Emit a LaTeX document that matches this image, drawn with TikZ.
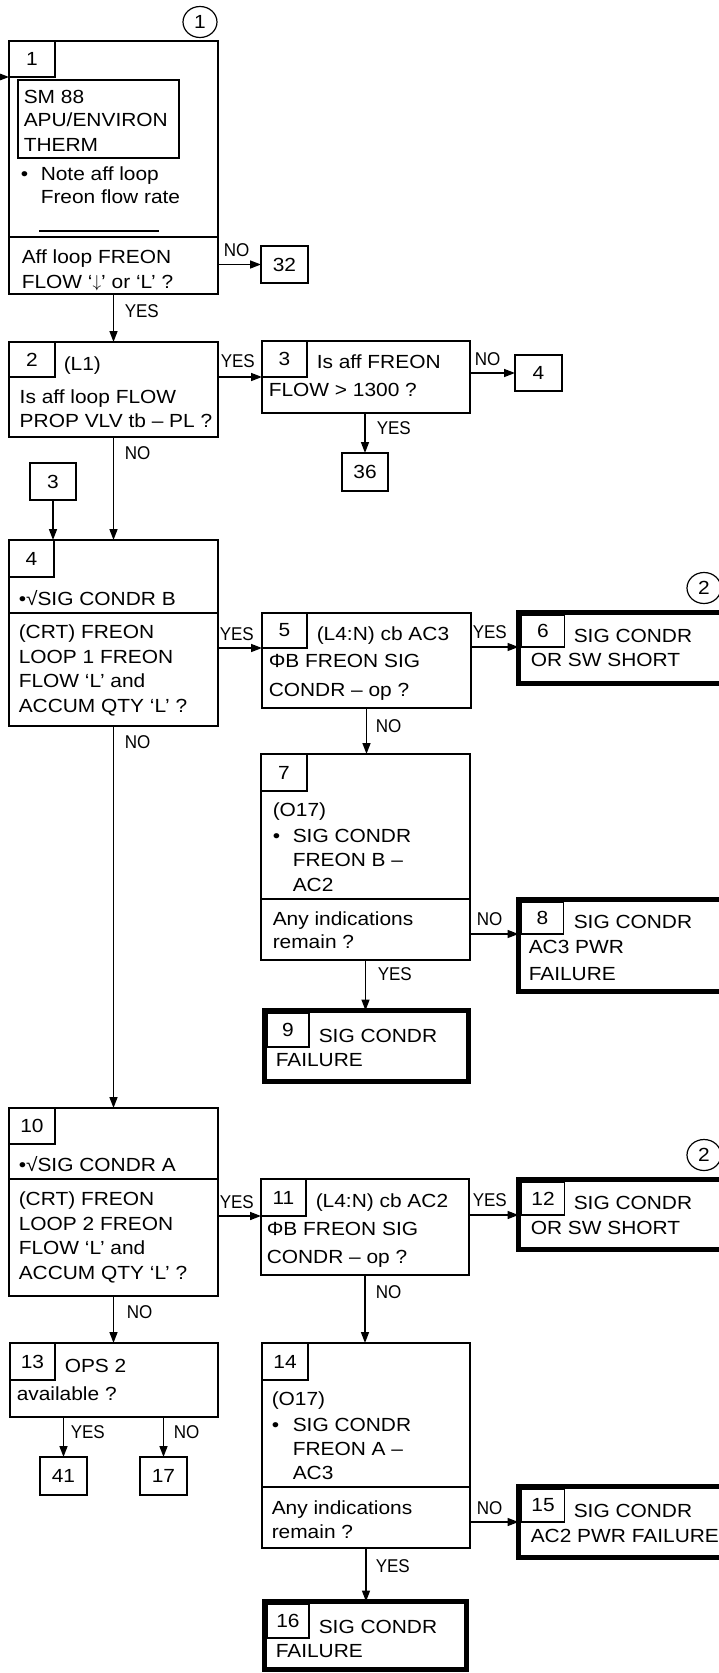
\documentclass[tikz,border=0pt]{standalone}
\usepackage{fontspec}
\setmainfont{Liberation Sans}[FakeStretch=1.1]
\newfontfamily\lblfont{Liberation Sans}[FakeStretch=0.92]
\usetikzlibrary{arrows.meta}
\usetikzlibrary{shapes.geometric}

\begin{document}
\begin{tikzpicture}[
    x=1pt, y=-1pt,
    ->, % connectors are directed
    >={Triangle[length=11pt,width=8pt]}, % arrow head style
    line width=1.5pt,
    % boxes are placed by their top left corner
    box/.style={
        draw,
        -,
        line width=1.5pt,
        anchor=north west,
        inner sep=0pt,
        outer sep=0pt,
        font=\fontsize{19}{25}\selectfont
    },
    endBox/.style={box, line width=5pt},
    sz/.style 2 args={minimum width=#1pt, minimum height=#2pt},
    txt/.style={anchor=base west, inner sep=0pt, font=\fontsize{19}{25}\selectfont},
    lbl/.style={anchor=base west, inner sep=0pt, font=\lblfont\fontsize{18.5}{20}\selectfont},
    refCircle/.style={
        draw, -, ellipse,
        line width=1.2pt,
        inner sep=0pt,
        minimum width=34pt,
        minimum height=31pt,
        font=\fontsize{19}{25}\selectfont
    }
]
\useasboundingbox (0,0) rectangle (718,1673);

    % Block 1
    \node[refCircle] (c1) at (200,22) {1};
    \node[box, sz={209}{253}] (b1) at (9,41) {};
    \node[box, sz={46}{36}] (n1) at (9,41) {1};
    \node[box, sz={161}{78}] (sm) at (18,80) {};
    \node[txt] (t1-1) at (23,103) {SM 88};
    \node[txt] (t1-2) at (23,126) {APU/ENVIRON};
    \node[txt] (t1-3) at (23,151) {THERM};
    \node[txt] (t1-4) at (20,180) {•};
    \node[txt] (t1-5) at (40,180) {Note aff loop};
    \node[txt] (t1-6) at (40,203) {Freon flow rate};
    \draw[-] (39,231) -- (159,231);
    \draw[-] (9,237) -- (218,237);
    \node[txt] (t1-7) at (21,263) {Aff loop FREON};
    \node[txt] (t1-8) at (21,288) {FLOW ‘\raisebox{1pt}{$\downarrow$}’ or ‘L’ ?};
    \node[box, sz={47}{37}] (r32) at (261,246) {32};

    % Block 2 and 3
    \node[box, sz={209}{95}] (b2) at (9,342) {};
    \node[box, sz={46}{35}] (n2) at (9,342) {2};
    \node[txt] (t2-1) at (63,370) {(L1)};
    \node[txt] (t2-2) at (19,403) {Is aff loop FLOW};
    \node[txt] (t2-3) at (19,427) {PROP VLV tb – PL ?};

    \node[box, sz={208}{72}] (b3) at (262,341) {};
    \node[box, sz={45}{36}] (n3) at (262,341) {3};
    \node[txt] (t3-1) at (316,368) {Is aff FREON};
    \node[txt] (t3-2) at (268,396) {FLOW > 1300 ?};
    \node[box, sz={47}{36}] (r4) at (515,355) {4};
    \node[box, sz={46}{38}] (r36) at (342,453) {36};
    \node[box, sz={46}{37}] (r3) at (30,463) {3};

    % Block 4, 5, 6
    \node[box, sz={209}{186}] (b4) at (9,540) {};
    \node[box, sz={45}{37}] (n4) at (9,540) {4};
    \node[txt] (t4-1) at (18,605) {•√SIG CONDR B};
    \draw[-] (9,613) -- (218,613);
    \node[txt] (t4-2) at (18,638) {(CRT) FREON};
    \node[txt] (t4-3) at (18,663) {LOOP 1 FREON};
    \node[txt] (t4-4) at (18,687) {FLOW ‘L’ and};
    \node[txt] (t4-5) at (18,712) {ACCUM QTY ‘L’ ?};

    \node[box, sz={209}{95}] (b5) at (262,613) {};
    \node[box, sz={45}{35}] (n5) at (262,613) {5};
    \node[txt] (t5-1) at (316,640) {(L4:N) cb AC3};
    \node[txt] (t5-2) at (268,667) {ΦB FREON SIG};
    \node[txt] (t5-3) at (268,696) {CONDR – op ?};

    \node[refCircle] (c2a) at (704,588) {2};
    \node[endBox, sz={210}{71}] (b6) at (518.5,612.5) {};
    \node[box, sz={43}{32}] (n6) at (521.5,615) {6};
    \node[txt] (t6-1) at (573,642) {SIG CONDR};
    \node[txt] (t6-2) at (530,666) {OR SW SHORT};

    % Block 7, 8, 9
    \node[box, sz={209}{206}] (b7) at (261,754) {};
    \node[box, sz={46}{37}] (n7) at (261,754) {7};
    \node[txt] (t7-1) at (272,816) {(O17)};
    \node[txt] (t7-2) at (272,842) {•};
    \node[txt] (t7-3) at (292,842) {SIG CONDR};
    \node[txt] (t7-4) at (292,866) {FREON B –};
    \node[txt] (t7-5) at (292,891) {AC2};
    \draw[-] (261,899) -- (470,899);
    \node[txt] (t7-6) at (272,925) {Any indications};
    \node[txt] (t7-7) at (272,948) {remain ?};

    \node[endBox, sz={210}{92}] (b8) at (518.5,899.5) {};
    \node[box, sz={42}{32}] (n8) at (521.5,902) {8};
    \node[txt] (t8-1) at (573,928) {SIG CONDR};
    \node[txt] (t8-2) at (528,953) {AC3 PWR};
    \node[txt] (t8-3) at (528,980) {FAILURE};

    \node[endBox, sz={204}{71}] (b9) at (264.5,1010.5) {};
    \node[box, sz={42}{34}] (n9) at (267,1013) {9};
    \node[txt] (t9-1) at (318,1042) {SIG CONDR};
    \node[txt] (t9-2) at (275,1066) {FAILURE};

    % Block 10, 11, 12
    \node[box, sz={209}{188}] (b10) at (9,1108) {};
    \node[box, sz={46}{36}] (n10) at (9,1108) {10};
    \node[txt] (t10-1) at (18,1171) {•√SIG CONDR A};
    \draw[-] (9,1179) -- (218,1179);
    \node[txt] (t10-2) at (18,1205) {(CRT) FREON};
    \node[txt] (t10-3) at (18,1230) {LOOP 2 FREON};
    \node[txt] (t10-4) at (18,1254) {FLOW ‘L’ and};
    \node[txt] (t10-5) at (18,1279) {ACCUM QTY ‘L’ ?};

    \node[box, sz={208}{96}] (b11) at (261,1179) {};
    \node[box, sz={45}{37}] (n11) at (261,1179) {11};
    \node[txt] (t11-1) at (315,1207) {(L4:N) cb AC2};
    \node[txt] (t11-2) at (266,1235) {ΦB FREON SIG};
    \node[txt] (t11-3) at (266,1263) {CONDR – op ?};

    \node[refCircle] (c2b) at (704,1155) {2};
    \node[endBox, sz={210}{70}] (b12) at (518.5,1179.5) {};
    \node[box, sz={43}{33}] (n12) at (521.5,1182) {12};
    \node[txt] (t12-1) at (573,1209) {SIG CONDR};
    \node[txt] (t12-2) at (530,1234) {OR SW SHORT};

    % Block 13
    \node[box, sz={208}{74}] (b13) at (10,1343) {};
    \node[box, sz={45}{37}] (n13) at (10,1343) {13};
    \node[txt] (t13-1) at (64,1372) {OPS 2};
    \node[txt] (t13-2) at (16,1400) {available ?};
    \node[box, sz={47}{38}] (r41) at (40,1457) {41};
    \node[box, sz={47}{38}] (r17) at (140,1457) {17};

    % Block 14, 15, 16
    \node[box, sz={208}{205}] (b14) at (262,1343) {};
    \node[box, sz={46}{37}] (n14) at (262,1343) {14};
    \node[txt] (t14-1) at (271,1405) {(O17)};
    \node[txt] (t14-2) at (271,1431) {•};
    \node[txt] (t14-3) at (292,1431) {SIG CONDR};
    \node[txt] (t14-4) at (292,1455) {FREON A –};
    \node[txt] (t14-5) at (292,1479) {AC3};
    \draw[-] (262,1487) -- (470,1487);
    \node[txt] (t14-6) at (271,1514) {Any indications};
    \node[txt] (t14-7) at (271,1538) {remain ?};

    \node[endBox, sz={210}{71}] (b15) at (518.5,1486.5) {};
    \node[box, sz={43}{33}] (n15) at (521.5,1489) {15};
    \node[txt] (t15-1) at (573,1517) {SIG CONDR};
    \node[txt] (t15-2) at (530,1542) {AC2 PWR FAILURE};

    \node[endBox, sz={202}{68}] (b16) at (264.5,1601.5) {};
    \node[box, sz={42}{34}] (n16) at (267,1604) {16};
    \node[txt] (t16-1) at (318,1633) {SIG CONDR};
    \node[txt] (t16-2) at (275,1657) {FAILURE};

    % Draw Edges
    \coordinate (in1) at (-6,77);
    \draw (in1) -- (b1.west |- n1.south);
    \draw (b1.east |- r32.west) -- (r32.west);
    \draw (b1.south) -- (b2.north);
    \draw (b2.east |- b3.west) -- (b3.west);
    \draw (b3.east |- r4.west) -- (r4.west);
    \draw (b3.south -| r36.north) -- (r36.north);
    \draw (r3.south) -- (r3.south |- b4.north);
    \draw (b2.south) -- (b4.north);
    \draw (b4.east |- n5.south) -- (b5.west |- n5.south);
    \draw (b5.east |- n6.south) -- (b6.west |- n6.south);
    \draw (b5.south) -- (b5.south |- b7.north);
    \draw (b4.south) -- (b10.north);
    \draw (b7.east |- n8.south) -- (b8.west |- n8.south);
    \draw (b7.south) -- (b7.south |- b9.north);
    \draw (b10.east |- n11.south) -- (b11.west |- n11.south);
    \draw (b11.east |- n12.south) -- (b12.west |- n12.south);
    \draw (b11.south) -- (b11.south |- b14.north);
    \draw (b10.south) -- (b10.south |- b13.north);
    \draw (b13.south -| r41.north) -- (r41.north);
    \draw (b13.south -| r17.north) -- (r17.north);
    \draw (b14.east |- n15.south) -- (b15.west |- n15.south);
    \draw (b14.south) -- (b14.south |- b16.north);

    % Edge labels
    \node[lbl] (l1) at (223,256) {NO};
    \node[lbl] (l2) at (124,317) {YES};
    \node[lbl] (l3) at (220,367) {YES};
    \node[lbl] (l4) at (474,365) {NO};
    \node[lbl] (l5) at (376,434) {YES};
    \node[lbl] (l6) at (124,459) {NO};
    \node[lbl] (l7) at (219,640) {YES};
    \node[lbl] (l8) at (472,638) {YES};
    \node[lbl] (l9) at (375,732) {NO};
    \node[lbl] (l10) at (124,748) {NO};
    \node[lbl] (l11) at (476,925) {NO};
    \node[lbl] (l12) at (377,980) {YES};
    \node[lbl] (l13) at (219,1208) {YES};
    \node[lbl] (l14) at (472,1206) {YES};
    \node[lbl] (l15) at (375,1298) {NO};
    \node[lbl] (l16) at (126,1318) {NO};
    \node[lbl] (l17) at (70,1438) {YES};
    \node[lbl] (l18) at (173,1438) {NO};
    \node[lbl] (l19) at (476,1514) {NO};
    \node[lbl] (l20) at (375,1572) {YES};

\end{tikzpicture}
\end{document}
